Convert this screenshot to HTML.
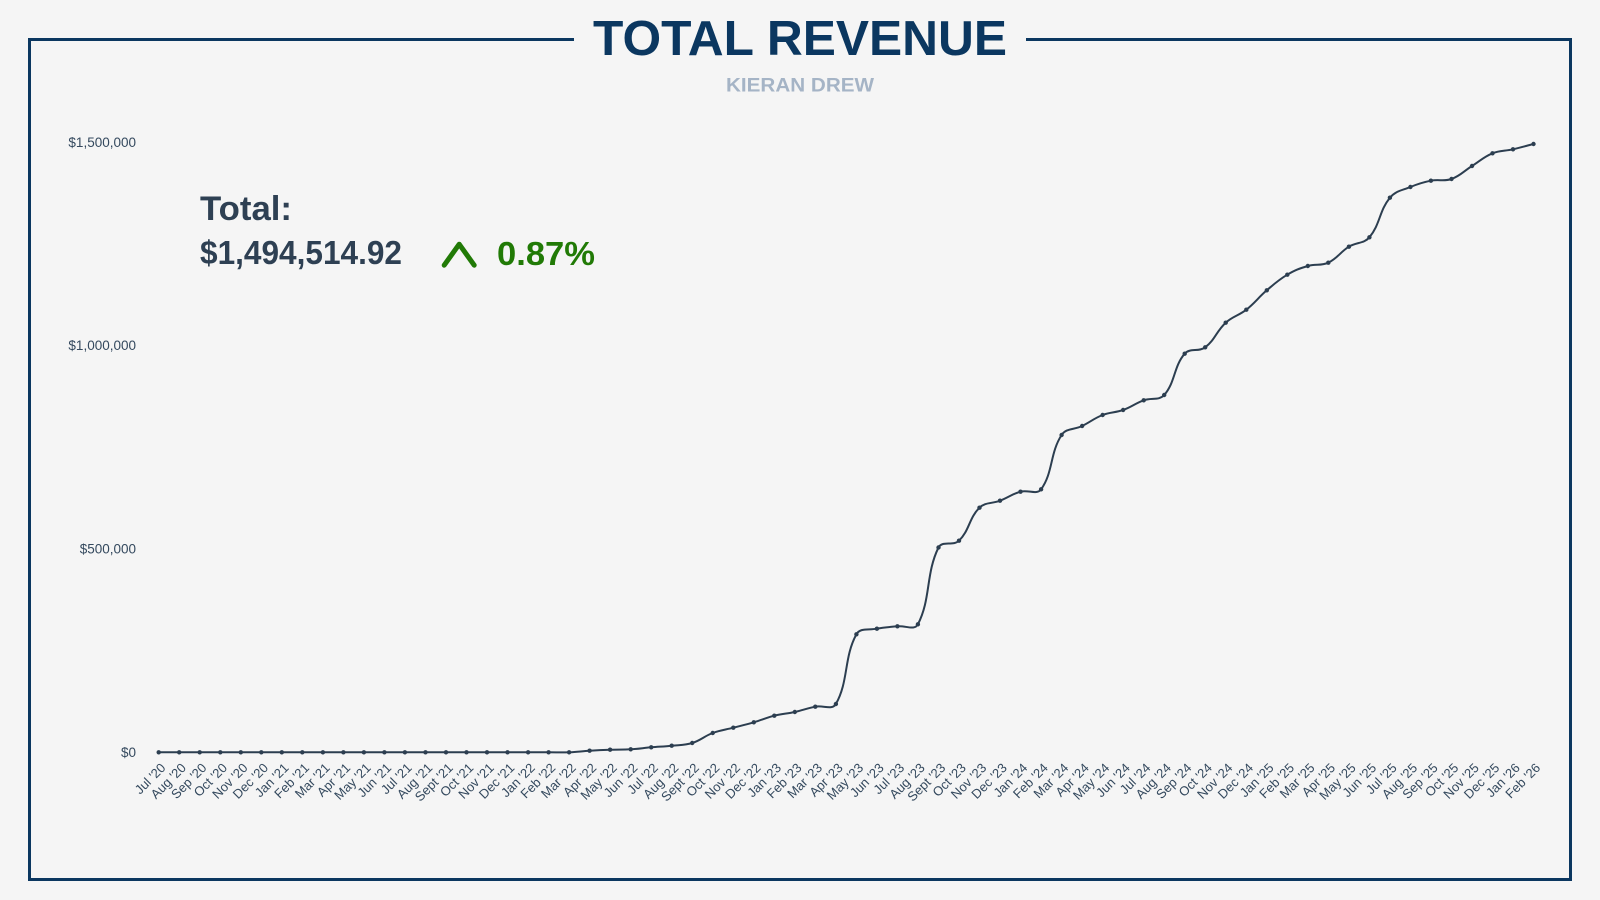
<!DOCTYPE html>
<html>
<head>
<meta charset="utf-8">
<style>
  html,body{margin:0;padding:0;background:#f5f5f5;}
  body{width:1600px;height:900px;overflow:hidden;font-family:"Liberation Sans",sans-serif;}
  svg{display:block;}
  .yl{font-family:"Liberation Sans",sans-serif;font-size:13.5px;fill:#34495e;}
  .xl text{font-family:"Liberation Sans",sans-serif;font-size:13px;fill:#34495e;}
</style>
</head>
<body>
<svg width="1600" height="900" viewBox="0 0 1600 900" xmlns="http://www.w3.org/2000/svg">
  <rect x="0" y="0" width="1600" height="900" fill="#f5f5f5"/>
  <!-- frame -->
  <path d="M574 39.5 H29.5 V879.5 H1570.5 V39.5 H1026" fill="none" stroke="#0b3760" stroke-width="3"/>
  <!-- title -->
  <text x="800" y="55" text-anchor="middle" font-family="Liberation Sans, sans-serif" font-size="49" font-weight="bold" fill="#0b3760" textLength="414" lengthAdjust="spacingAndGlyphs">TOTAL REVENUE</text>
  <text x="800" y="91.7" text-anchor="middle" font-family="Liberation Sans, sans-serif" font-size="19" font-weight="bold" fill="#a5b4c6" textLength="148" lengthAdjust="spacingAndGlyphs">KIERAN DREW</text>

  <!-- y axis labels -->
  <text class="yl" x="136" y="752.3" text-anchor="end" dominant-baseline="central">$0</text>
  <text class="yl" x="136" y="549" text-anchor="end" dominant-baseline="central">$500,000</text>
  <text class="yl" x="136" y="345.6" text-anchor="end" dominant-baseline="central">$1,000,000</text>
  <text class="yl" x="136" y="142.3" text-anchor="end" dominant-baseline="central">$1,500,000</text>

  <!-- total block -->
  <text x="200" y="220" font-family="Liberation Sans, sans-serif" font-size="34" font-weight="bold" fill="#2e4053" textLength="92" lengthAdjust="spacingAndGlyphs">Total:</text>
  <text x="200" y="264" font-family="Liberation Sans, sans-serif" font-size="33" font-weight="bold" fill="#2e4053" textLength="202" lengthAdjust="spacingAndGlyphs">$1,494,514.92</text>
  <polyline points="444.2,265.2 459.2,244.2 474.2,265.2" fill="none" stroke="#217a06" stroke-width="5" stroke-linecap="round" stroke-linejoin="round"/>
  <text x="497" y="265" font-family="Liberation Sans, sans-serif" font-size="33" font-weight="bold" fill="#217a06" textLength="98" lengthAdjust="spacingAndGlyphs">0.87%</text>

  <!-- line -->
  <path id="line" fill="none" stroke="#2c3e50" stroke-width="2" stroke-linejoin="round" d="M158.7 752.3 L179.2 752.3 L199.7 752.3 L220.3 752.3 L240.8 752.3 L261.3 752.3 L281.8 752.3 L302.3 752.3 L322.9 752.3 L343.4 752.3 L363.9 752.3 L384.4 752.3 L404.9 752.3 L425.5 752.3 L446.0 752.3 L466.5 752.3 L487.0 752.3 L507.5 752.3 L528.1 752.3 L548.6 752.3 L569.1 752.3 L589.6 750.7 L610.1 749.7 L630.7 749.3 L651.2 747.3 L671.7 745.7 L692.2 743 L712.7 733 L733.3 727.7 L753.8 722.3 L774.3 715.7 L794.8 712 L815.3 706.7 L835.9 704 L856.4 634.3 L876.9 628.7 L897.4 626.3 L917.9 624.3 L938.5 547.5 L959.0 540.7 L979.5 507.7 L1000.0 500.7 L1020.5 491.7 L1041.1 489.3 L1061.6 435 L1082.1 426 L1102.6 415 L1123.1 410 L1143.7 400.3 L1164.2 395 L1184.7 353.7 L1205.2 347.3 L1225.7 322.7 L1246.3 309.7 L1266.8 290.3 L1287.3 274.7 L1307.8 266 L1328.3 262.7 L1348.9 246.7 L1369.4 237.3 L1389.9 197.7 L1410.4 187 L1430.9 180.7 L1451.5 179 L1472.0 166 L1492.5 153.3 L1513.0 149.3 L1533.5 144"/>

  <g id="pts" fill="#2c3e50">
    <circle cx="158.7" cy="752.3" r="2.2"/>
    <circle cx="179.2" cy="752.3" r="2.2"/>
    <circle cx="199.7" cy="752.3" r="2.2"/>
    <circle cx="220.3" cy="752.3" r="2.2"/>
    <circle cx="240.8" cy="752.3" r="2.2"/>
    <circle cx="261.3" cy="752.3" r="2.2"/>
    <circle cx="281.8" cy="752.3" r="2.2"/>
    <circle cx="302.3" cy="752.3" r="2.2"/>
    <circle cx="322.9" cy="752.3" r="2.2"/>
    <circle cx="343.4" cy="752.3" r="2.2"/>
    <circle cx="363.9" cy="752.3" r="2.2"/>
    <circle cx="384.4" cy="752.3" r="2.2"/>
    <circle cx="404.9" cy="752.3" r="2.2"/>
    <circle cx="425.5" cy="752.3" r="2.2"/>
    <circle cx="446.0" cy="752.3" r="2.2"/>
    <circle cx="466.5" cy="752.3" r="2.2"/>
    <circle cx="487.0" cy="752.3" r="2.2"/>
    <circle cx="507.5" cy="752.3" r="2.2"/>
    <circle cx="528.1" cy="752.3" r="2.2"/>
    <circle cx="548.6" cy="752.3" r="2.2"/>
    <circle cx="569.1" cy="752.3" r="2.2"/>
    <circle cx="589.6" cy="750.7" r="2.2"/>
    <circle cx="610.1" cy="749.7" r="2.2"/>
    <circle cx="630.7" cy="749.3" r="2.2"/>
    <circle cx="651.2" cy="747.3" r="2.2"/>
    <circle cx="671.7" cy="745.7" r="2.2"/>
    <circle cx="692.2" cy="743" r="2.2"/>
    <circle cx="712.7" cy="733" r="2.2"/>
    <circle cx="733.3" cy="727.7" r="2.2"/>
    <circle cx="753.8" cy="722.3" r="2.2"/>
    <circle cx="774.3" cy="715.7" r="2.2"/>
    <circle cx="794.8" cy="712" r="2.2"/>
    <circle cx="815.3" cy="706.7" r="2.2"/>
    <circle cx="835.9" cy="704" r="2.2"/>
    <circle cx="856.4" cy="634.3" r="2.2"/>
    <circle cx="876.9" cy="628.7" r="2.2"/>
    <circle cx="897.4" cy="626.3" r="2.2"/>
    <circle cx="917.9" cy="624.3" r="2.2"/>
    <circle cx="938.5" cy="547.5" r="2.2"/>
    <circle cx="959.0" cy="540.7" r="2.2"/>
    <circle cx="979.5" cy="507.7" r="2.2"/>
    <circle cx="1000.0" cy="500.7" r="2.2"/>
    <circle cx="1020.5" cy="491.7" r="2.2"/>
    <circle cx="1041.1" cy="489.3" r="2.2"/>
    <circle cx="1061.6" cy="435" r="2.2"/>
    <circle cx="1082.1" cy="426" r="2.2"/>
    <circle cx="1102.6" cy="415" r="2.2"/>
    <circle cx="1123.1" cy="410" r="2.2"/>
    <circle cx="1143.7" cy="400.3" r="2.2"/>
    <circle cx="1164.2" cy="395" r="2.2"/>
    <circle cx="1184.7" cy="353.7" r="2.2"/>
    <circle cx="1205.2" cy="347.3" r="2.2"/>
    <circle cx="1225.7" cy="322.7" r="2.2"/>
    <circle cx="1246.3" cy="309.7" r="2.2"/>
    <circle cx="1266.8" cy="290.3" r="2.2"/>
    <circle cx="1287.3" cy="274.7" r="2.2"/>
    <circle cx="1307.8" cy="266" r="2.2"/>
    <circle cx="1328.3" cy="262.7" r="2.2"/>
    <circle cx="1348.9" cy="246.7" r="2.2"/>
    <circle cx="1369.4" cy="237.3" r="2.2"/>
    <circle cx="1389.9" cy="197.7" r="2.2"/>
    <circle cx="1410.4" cy="187" r="2.2"/>
    <circle cx="1430.9" cy="180.7" r="2.2"/>
    <circle cx="1451.5" cy="179" r="2.2"/>
    <circle cx="1472.0" cy="166" r="2.2"/>
    <circle cx="1492.5" cy="153.3" r="2.2"/>
    <circle cx="1513.0" cy="149.3" r="2.2"/>
    <circle cx="1533.5" cy="144" r="2.2"/>
  </g>

  <!-- x axis labels -->
  <g class="xl" text-anchor="end" dominant-baseline="central">
    <text transform="translate(163.2,765.5) rotate(-45)">Jul '20</text>
    <text transform="translate(183.7,765.5) rotate(-45)">Aug '20</text>
    <text transform="translate(204.2,765.5) rotate(-45)">Sep '20</text>
    <text transform="translate(224.8,765.5) rotate(-45)">Oct '20</text>
    <text transform="translate(245.3,765.5) rotate(-45)">Nov '20</text>
    <text transform="translate(265.8,765.5) rotate(-45)">Dec '20</text>
    <text transform="translate(286.3,765.5) rotate(-45)">Jan '21</text>
    <text transform="translate(306.8,765.5) rotate(-45)">Feb '21</text>
    <text transform="translate(327.4,765.5) rotate(-45)">Mar '21</text>
    <text transform="translate(347.9,765.5) rotate(-45)">Apr '21</text>
    <text transform="translate(368.4,765.5) rotate(-45)">May '21</text>
    <text transform="translate(388.9,765.5) rotate(-45)">Jun '21</text>
    <text transform="translate(409.4,765.5) rotate(-45)">Jul '21</text>
    <text transform="translate(430.0,765.5) rotate(-45)">Aug '21</text>
    <text transform="translate(450.5,765.5) rotate(-45)">Sept '21</text>
    <text transform="translate(471.0,765.5) rotate(-45)">Oct '21</text>
    <text transform="translate(491.5,765.5) rotate(-45)">Nov '21</text>
    <text transform="translate(512.0,765.5) rotate(-45)">Dec '21</text>
    <text transform="translate(532.6,765.5) rotate(-45)">Jan '22</text>
    <text transform="translate(553.1,765.5) rotate(-45)">Feb '22</text>
    <text transform="translate(573.6,765.5) rotate(-45)">Mar '22</text>
    <text transform="translate(594.1,765.5) rotate(-45)">Apr '22</text>
    <text transform="translate(614.6,765.5) rotate(-45)">May '22</text>
    <text transform="translate(635.2,765.5) rotate(-45)">Jun '22</text>
    <text transform="translate(655.7,765.5) rotate(-45)">Jul '22</text>
    <text transform="translate(676.2,765.5) rotate(-45)">Aug '22</text>
    <text transform="translate(696.7,765.5) rotate(-45)">Sept '22</text>
    <text transform="translate(717.2,765.5) rotate(-45)">Oct '22</text>
    <text transform="translate(737.8,765.5) rotate(-45)">Nov '22</text>
    <text transform="translate(758.3,765.5) rotate(-45)">Dec '22</text>
    <text transform="translate(778.8,765.5) rotate(-45)">Jan '23</text>
    <text transform="translate(799.3,765.5) rotate(-45)">Feb '23</text>
    <text transform="translate(819.8,765.5) rotate(-45)">Mar '23</text>
    <text transform="translate(840.4,765.5) rotate(-45)">Apr '23</text>
    <text transform="translate(860.9,765.5) rotate(-45)">May '23</text>
    <text transform="translate(881.4,765.5) rotate(-45)">Jun '23</text>
    <text transform="translate(901.9,765.5) rotate(-45)">Jul '23</text>
    <text transform="translate(922.4,765.5) rotate(-45)">Aug '23</text>
    <text transform="translate(943.0,765.5) rotate(-45)">Sept '23</text>
    <text transform="translate(963.5,765.5) rotate(-45)">Oct '23</text>
    <text transform="translate(984.0,765.5) rotate(-45)">Nov '23</text>
    <text transform="translate(1004.5,765.5) rotate(-45)">Dec '23</text>
    <text transform="translate(1025.0,765.5) rotate(-45)">Jan '24</text>
    <text transform="translate(1045.6,765.5) rotate(-45)">Feb '24</text>
    <text transform="translate(1066.1,765.5) rotate(-45)">Mar '24</text>
    <text transform="translate(1086.6,765.5) rotate(-45)">Apr '24</text>
    <text transform="translate(1107.1,765.5) rotate(-45)">May '24</text>
    <text transform="translate(1127.6,765.5) rotate(-45)">Jun '24</text>
    <text transform="translate(1148.2,765.5) rotate(-45)">Jul '24</text>
    <text transform="translate(1168.7,765.5) rotate(-45)">Aug '24</text>
    <text transform="translate(1189.2,765.5) rotate(-45)">Sep '24</text>
    <text transform="translate(1209.7,765.5) rotate(-45)">Oct '24</text>
    <text transform="translate(1230.2,765.5) rotate(-45)">Nov '24</text>
    <text transform="translate(1250.8,765.5) rotate(-45)">Dec '24</text>
    <text transform="translate(1271.3,765.5) rotate(-45)">Jan '25</text>
    <text transform="translate(1291.8,765.5) rotate(-45)">Feb '25</text>
    <text transform="translate(1312.3,765.5) rotate(-45)">Mar '25</text>
    <text transform="translate(1332.8,765.5) rotate(-45)">Apr '25</text>
    <text transform="translate(1353.4,765.5) rotate(-45)">May '25</text>
    <text transform="translate(1373.9,765.5) rotate(-45)">Jun '25</text>
    <text transform="translate(1394.4,765.5) rotate(-45)">Jul '25</text>
    <text transform="translate(1414.9,765.5) rotate(-45)">Aug '25</text>
    <text transform="translate(1435.4,765.5) rotate(-45)">Sep '25</text>
    <text transform="translate(1456.0,765.5) rotate(-45)">Oct '25</text>
    <text transform="translate(1476.5,765.5) rotate(-45)">Nov '25</text>
    <text transform="translate(1497.0,765.5) rotate(-45)">Dec '25</text>
    <text transform="translate(1517.5,765.5) rotate(-45)">Jan '26</text>
    <text transform="translate(1538.0,765.5) rotate(-45)">Feb '26</text>
  </g>
</svg>
<script>
(function(){
  try{
    var cs=document.querySelectorAll('#pts circle');
    var pts=[];
    for(var i=0;i<cs.length;i++){pts.push([parseFloat(cs[i].getAttribute('cx')),parseFloat(cs[i].getAttribute('cy'))]);}
    var t=0.4,cps=[];
    for(i=0;i<pts.length;i++){
      var prev=pts[i-1]||pts[i],cur=pts[i],next=pts[i+1]||pts[i];
      var d01=Math.hypot(cur[0]-prev[0],cur[1]-prev[1]),d12=Math.hypot(next[0]-cur[0],next[1]-cur[1]);
      var s01=d01/(d01+d12),s12=d12/(d01+d12);
      if(isNaN(s01))s01=0; if(isNaN(s12))s12=0;
      var fa=t*s01,fb=t*s12;
      cps.push([cur[0]-fa*(next[0]-prev[0]),cur[1]-fa*(next[1]-prev[1]),cur[0]+fb*(next[0]-prev[0]),cur[1]+fb*(next[1]-prev[1])]);
    }
    var d='M'+pts[0][0]+' '+pts[0][1];
    for(i=1;i<pts.length;i++){
      d+=' C'+cps[i-1][2].toFixed(2)+' '+cps[i-1][3].toFixed(2)+' '+cps[i][0].toFixed(2)+' '+cps[i][1].toFixed(2)+' '+pts[i][0]+' '+pts[i][1];
    }
    document.getElementById('line').setAttribute('d',d);
  }catch(e){}
})();
</script>
</body>
</html>
